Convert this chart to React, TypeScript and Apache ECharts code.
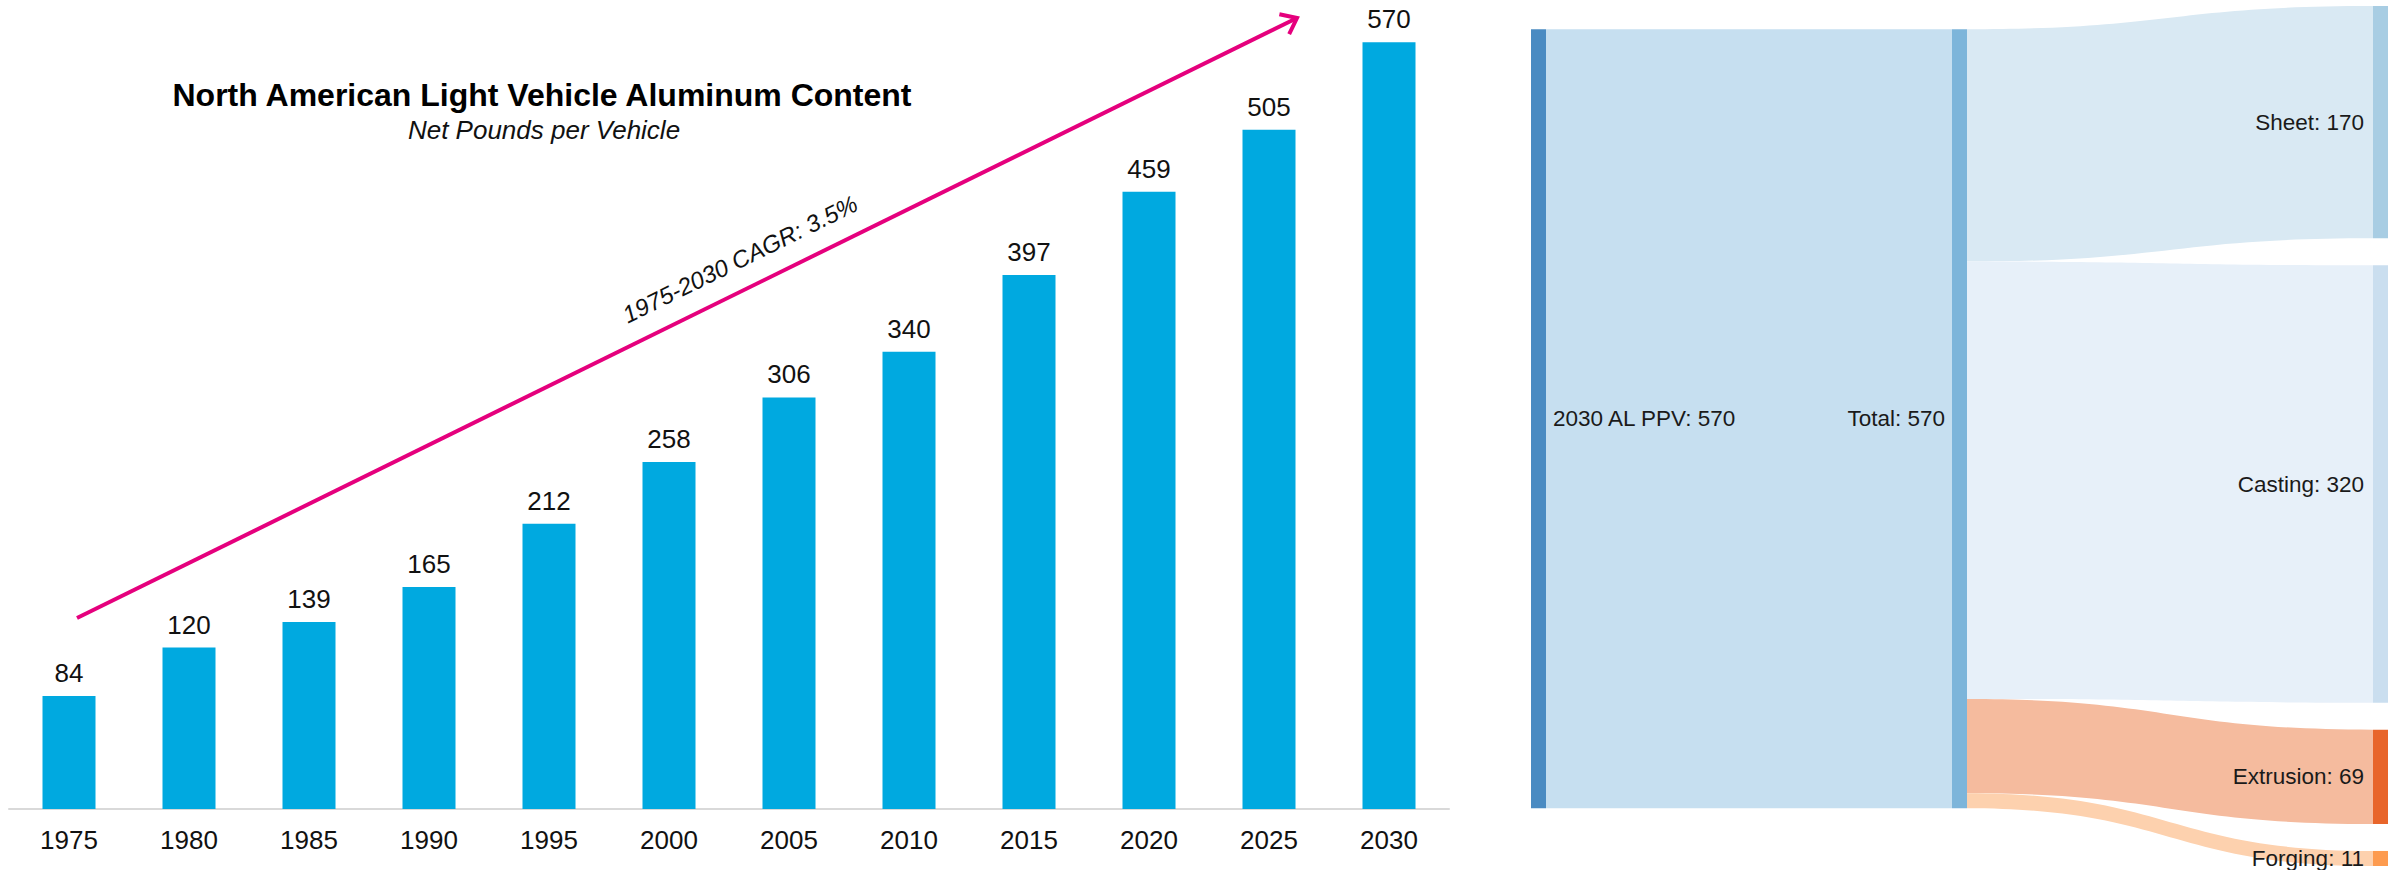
import React, { useEffect, useRef } from "react";
import * as echarts from "echarts";

// ---------- Data ----------
const years = ["1975", "1980", "1985", "1990", "1995", "2000", "2005", "2010", "2015", "2020", "2025", "2030"];
const poundsPerVehicle = [84, 120, 139, 165, 212, 258, 306, 340, 397, 459, 505, 570];

const sourceName = "2030 AL PPV";
const totalName = "Total";
const productNames = ["Sheet", "Casting", "Extrusion", "Forging"];
const productValues = [170, 320, 69, 11];

const titleText = "North American Light Vehicle Aluminum Content";
const subtitleText = "Net Pounds per Vehicle";
const cagrText = "1975-2030 CAGR: 3.5%";

// ---------- Styles ----------
const FONT = "'Liberation Sans', Arial, Helvetica, sans-serif";
const BAR_COLOR = "#00a9e0";
const ARROW_COLOR = "#e5007d";
const productNodeColors = ["#a8cde3", "#cadeef", "#e8652a", "#fd9b4f"];
const productLinkColors = ["#d9e9f3", "#e7f0f9", "#f5bb9e", "#fdd1ae"];

export default function App() {
  const ref = useRef<HTMLDivElement>(null);

  useEffect(() => {
    if (!ref.current) return;
    const chart = echarts.init(ref.current, undefined, { renderer: "svg" });

    const total = productValues.reduce((a, b) => a + b, 0);

    // Sankey layout params
    const SK_LEFT = 1531;
    const SK_TOP = 6;
    const SK_W = 857;
    const SK_H = 860;
    const GAP = 27;
    // place the single-node columns at the value-weighted centre of their targets
    const ky = (SK_H - GAP * (productValues.length - 1)) / total;
    let acc = 0;
    let wsum = 0;
    productValues.forEach((v) => {
      const h = v * ky;
      wsum += (acc + h / 2) * v;
      acc += h + GAP;
    });
    const centre = wsum / total;
    const localY = (centre - (total * ky) / 2) / SK_H;

    // Arrow geometry
    const ax0 = 77, ay0 = 618, ax1 = 1297, ay1 = 18;
    const len = Math.hypot(ax0 - ax1, ay0 - ay1);
    const ux = (ax0 - ax1) / len, uy = (ay0 - ay1) / len;
    const headLen = 18, headAng = (38 * Math.PI) / 180;
    const rot = (x: number, y: number, a: number) => [x * Math.cos(a) - y * Math.sin(a), x * Math.sin(a) + y * Math.cos(a)];
    const h1 = rot(ux, uy, headAng);
    const h2 = rot(ux, uy, -headAng);
    const angle = Math.atan2(ay0 - ay1, ax1 - ax0);

    const option: any = {
      animation: false,
      backgroundColor: "#ffffff",
      textStyle: { fontFamily: FONT },
      grid: { left: 9, width: 1440, top: 2, bottom: 61, containLabel: false },
      xAxis: {
        type: "category",
        data: years,
        axisLine: { show: true, lineStyle: { color: "#d9d9d9", width: 2 } },
        axisTick: { show: false },
        axisLabel: { fontSize: 26, color: "#111111", fontFamily: FONT, margin: 18 },
      },
      yAxis: { type: "value", min: 0, max: 600, show: false, splitLine: { show: false } },
      series: [
        {
          type: "bar",
          data: poundsPerVehicle,
          barWidth: 53,
          itemStyle: { color: BAR_COLOR },
          label: {
            show: true,
            position: "top",
            distance: 10,
            fontSize: 26,
            color: "#111111",
            fontFamily: FONT,
          },
          silent: true,
        },
        {
          type: "sankey",
          left: SK_LEFT,
          top: SK_TOP,
          width: SK_W,
          height: SK_H,
          nodeWidth: 15,
          nodeGap: GAP,
          layoutIterations: 0,
          draggable: false,
          emphasis: { disabled: true },
          silent: true,
          label: {
            show: true,
            fontSize: 22.5,
            color: "#1a1a1a",
            fontFamily: FONT,
            formatter: "{b}: {c}",
          },
          lineStyle: { curveness: 0.5, opacity: 1 },
          data: [
            {
              name: sourceName,
              value: total,
              localY,
              itemStyle: { color: "#4a8bc2", borderWidth: 0 },
              label: { position: "right", distance: 7 },
            },
            {
              name: totalName,
              value: total,
              localY,
              itemStyle: { color: "#7db5da", borderWidth: 0 },
              label: { position: "left", distance: 7 },
            },
            ...productNames.map((n, i) => ({
              name: n,
              value: productValues[i],
              itemStyle: { color: productNodeColors[i], borderWidth: 0 },
              label: { position: "left", distance: 9 },
            })),
          ],
          links: [
            { source: sourceName, target: totalName, value: total, lineStyle: { color: "#c6dff0", opacity: 1 } },
            ...productNames.map((n, i) => ({
              source: totalName,
              target: n,
              value: productValues[i],
              lineStyle: { color: productLinkColors[i], opacity: 1 },
            })),
          ],
        },
      ],
      graphic: [
        {
          type: "text",
          x: 542,
          y: 95,
          style: {
            text: titleText,
            font: `bold 32px ${FONT}`,
            fill: "#000000",
            align: "center",
            verticalAlign: "middle",
          },
        },
        {
          type: "text",
          x: 544,
          y: 130,
          style: {
            text: subtitleText,
            font: `italic 26px ${FONT}`,
            fill: "#111111",
            align: "center",
            verticalAlign: "middle",
          },
        },
        {
          type: "line",
          shape: { x1: ax0, y1: ay0, x2: ax1, y2: ay1 },
          style: { stroke: ARROW_COLOR, lineWidth: 4 },
        },
        {
          type: "polyline",
          shape: {
            points: [
              [ax1 + h1[0] * headLen, ay1 + h1[1] * headLen],
              [ax1, ay1],
              [ax1 + h2[0] * headLen, ay1 + h2[1] * headLen],
            ],
          },
          style: { stroke: ARROW_COLOR, lineWidth: 4, fill: null, lineJoin: "miter" },
        },
        {
          type: "text",
          x: 740,
          y: 259,
          rotation: angle,
          style: {
            text: cagrText,
            font: `italic 24px ${FONT}`,
            fill: "#111111",
            align: "center",
            verticalAlign: "middle",
          },
        },
      ],
    };

    chart.setOption(option);
    return () => chart.dispose();
  }, []);

  return (
    <div
      ref={ref}
      style={{ position: "absolute", left: 0, top: 0, width: 2405, height: 870, background: "#fff" }}
    />
  );
}
